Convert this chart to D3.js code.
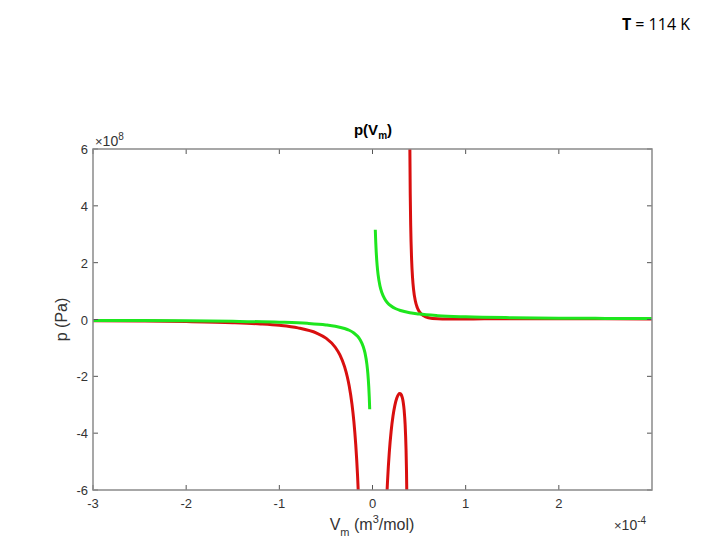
<!DOCTYPE html>
<html><head><meta charset="utf-8">
<script src="https://cdn.jsdelivr.net/npm/d3@7"></script>
<style>body{margin:0;background:#fff}svg{display:block}</style>
</head><body>
<svg id="c" width="720" height="540"></svg>
<script>
// units: V in 1e-4 m^3/mol, p in 1e8 Pa
const xTicks = [-3, -2, -1, 0, 1, 2];
const yTicks = [-6, -4, -2, 0, 2, 4, 6];

// red curve (three branches)
const redLeftV = [-3, -2.5, -2, -1.5, -1.2, -1, -0.8, -0.6, -0.5, -0.4, -0.35, -0.3, -0.27, -0.25, -0.22, -0.2, -0.18, -0.16, -0.15];
const redLeftP = [-0.043, -0.055, -0.074, -0.111, -0.155, -0.205, -0.294, -0.477, -0.655, -0.977, -1.247, -1.66, -2.024, -2.341, -2.987, -3.586, -4.396, -5.525, -6.265];
const redMidV = [0.15, 0.16, 0.17, 0.18, 0.2, 0.22, 0.24, 0.26, 0.28, 0.29, 0.30, 0.31, 0.32, 0.33, 0.34, 0.35, 0.36, 0.365, 0.37];
const redMidP = [-6.489, -5.77, -5.177, -4.686, -3.932, -3.398, -3.023, -2.773, -2.633, -2.606, -2.612, -2.657, -2.753, -2.921, -3.202, -3.68, -4.568, -5.337, -6.576];
const redRightV = [0.395, 0.40, 0.405, 0.41, 0.42, 0.43, 0.44, 0.46, 0.48, 0.5, 0.55, 0.6, 0.7, 0.8, 1.0, 1.2, 1.5, 2, 2.5, 3];
const redRightP = [9.5, 6.435, 4.43, 3.306, 2.095, 1.463, 1.081, 0.651, 0.425, 0.291, 0.129, 0.064, 0.023, 0.015, 0.018, 0.022, 0.024, 0.025, 0.023, 0.021];

// green curve (two branches)
const greenLeftV = [-3, -2.5, -2, -1.5, -1, -0.7, -0.5, -0.4, -0.3, -0.25, -0.2, -0.16, -0.13, -0.1, -0.08, -0.06, -0.05, -0.04, -0.035, -0.03];
const greenLeftP = [-0.032, -0.038, -0.047, -0.063, -0.095, -0.135, -0.19, -0.237, -0.316, -0.379, -0.474, -0.592, -0.729, -0.948, -1.185, -1.58, -1.896, -2.37, -2.708, -3.159];
const greenRightV = [0.03, 0.035, 0.04, 0.05, 0.06, 0.08, 0.1, 0.13, 0.16, 0.2, 0.25, 0.3, 0.4, 0.5, 0.7, 1, 1.5, 2, 2.5, 3];
const greenRightP = [3.159, 2.708, 2.37, 1.896, 1.58, 1.185, 0.948, 0.729, 0.592, 0.474, 0.379, 0.316, 0.237, 0.19, 0.135, 0.095, 0.063, 0.047, 0.038, 0.032];

const svg = d3.select('#c');
const L = 93, R = 652, T = 149, B = 490;
const x = d3.scaleLinear().domain([-3, 3]).range([L, R]);
const y = d3.scaleLinear().domain([-6, 6]).range([B, T]);
const font = "'Liberation Sans', Arial, sans-serif";

svg.append('defs').append('clipPath').attr('id', 'clip')
  .append('rect').attr('x', L).attr('y', T).attr('width', R - L).attr('height', B - T);

const line = d3.line().x(d => x(d[0])).y(d => y(d[1])).curve(d3.curveMonotoneX);
const zip = (a, b) => a.map((v, i) => [v, b[i]]);
const g = svg.append('g').attr('clip-path', 'url(#clip)');
[[redLeftV, redLeftP, '#d90f0f'], [redMidV, redMidP, '#d90f0f'], [redRightV, redRightP, '#d90f0f'],
 [greenLeftV, greenLeftP, '#1ee61e'], [greenRightV, greenRightP, '#1ee61e']]
  .forEach(([v, p, c]) => {
    g.append('path').attr('d', line(zip(v, p))).attr('fill', 'none')
      .attr('stroke', c).attr('stroke-width', 3).attr('stroke-linejoin', 'round');
  });
// ticks
const tk = svg.append('g').attr('stroke', '#555').attr('stroke-width', 1);
xTicks.forEach(t => {
  tk.append('line').attr('x1', x(t)).attr('x2', x(t)).attr('y1', B).attr('y2', B - 5);
  tk.append('line').attr('x1', x(t)).attr('x2', x(t)).attr('y1', T).attr('y2', T + 5);
});
yTicks.forEach(t => {
  tk.append('line').attr('x1', L).attr('x2', L + 5).attr('y1', y(t)).attr('y2', y(t));
  tk.append('line').attr('x1', R).attr('x2', R - 5).attr('y1', y(t)).attr('y2', y(t));
});
// box
svg.append('rect').attr('x', L).attr('y', T).attr('width', R - L).attr('height', B - T)
  .attr('fill', 'none').attr('stroke', '#8a8a8a').attr('stroke-width', 1.5);

// tick labels
const lab = svg.append('g').attr('font-family', font).attr('font-size', 13).attr('fill', '#333');
xTicks.forEach(t => {
  lab.append('text').attr('x', x(t)).attr('y', B + 18).attr('text-anchor', 'middle').text(t);
});
yTicks.forEach(t => {
  lab.append('text').attr('x', L - 5).attr('y', y(t) + 5).attr('text-anchor', 'end').text(t);
});
// exponents
const e1 = lab.append('text').attr('x', L + 2).attr('y', T - 3);
e1.append('tspan').text('\u00d7');
e1.append('tspan').text('10').attr('font-size', 14);
e1.append('tspan').text('8').attr('font-size', 10).attr('dy', -6);
const e2 = lab.append('text').attr('x', 614).attr('y', 530);
e2.append('tspan').text('\u00d7');
e2.append('tspan').text('10').attr('font-size', 14);
e2.append('tspan').text('-4').attr('font-size', 10).attr('dy', -6);

// title
const tt = svg.append('text').attr('x', 373).attr('y', 135).attr('text-anchor', 'middle')
  .attr('font-family', font).attr('font-size', 15).attr('font-weight', 'bold').attr('fill', '#000');
tt.append('tspan').text('p(V');
tt.append('tspan').text('m').attr('font-size', 10).attr('dy', 4);
tt.append('tspan').text(')').attr('dy', -4);

// axis labels
const xl = svg.append('text').attr('x', 372).attr('y', 530).attr('text-anchor', 'middle')
  .attr('font-family', font).attr('font-size', 16).attr('fill', '#333');
xl.append('tspan').text('V');
xl.append('tspan').text('m').attr('font-size', 11).attr('dy', 6);
xl.append('tspan').text(' (m').attr('dy', -6);
xl.append('tspan').text('3').attr('font-size', 11).attr('dy', -7);
xl.append('tspan').text('/mol)').attr('dy', 7);

svg.append('text').attr('transform', `translate(67,${y(0)}) rotate(-90)`).attr('text-anchor', 'middle')
  .attr('font-family', font).attr('font-size', 16).attr('fill', '#333').text('p (Pa)');

// T label
const tl = svg.append('text').attr('x', 690).attr('y', 30).attr('text-anchor', 'end')
  .attr('font-family', "'Open Sans', 'Liberation Sans', sans-serif").attr('font-size', 16).attr('fill', '#000');
tl.append('tspan').text('T').attr('font-weight', 'bold');
tl.append('tspan').text(' = 114 K');
</script>
</body></html>
